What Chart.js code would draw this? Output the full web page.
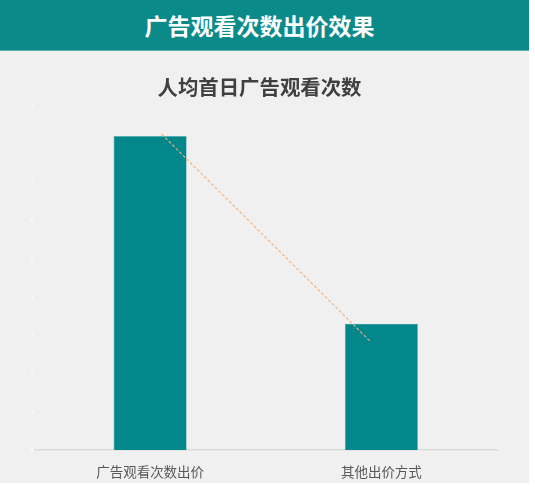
<!DOCTYPE html>
<html>
<head>
<meta charset="utf-8">
<script src="https://cdn.jsdelivr.net/npm/chart.js@4"></script>
<style>
  html, body { margin: 0; padding: 0; background: #ffffff; }
  body { width: 535px; height: 487px; position: relative; overflow: hidden; font-family: "Noto Sans CJK SC", sans-serif; }
  .panel { position: absolute; left: 0; top: 0; width: 529px; height: 483px; background: #f0f0f0; }
  .header {
    position: absolute; left: 0; top: 0; width: 529px; height: 50px;
    background: #0b8a8a; border-bottom: 1px solid #5db0b0;
    color: #ffffff; font-weight: bold; font-size: 23px;
    line-height: 50px; text-align: center; text-indent: -10px;
  }
  .chartBox { position: absolute; left: 0; top: 51px; width: 519px; height: 432px; }
</style>
</head>
<body>
<div class="panel">
  <div class="header">广告观看次数出价效果</div>
  <div class="chartBox"><canvas id="myChart"></canvas></div>
</div>
<script>
// data
const categories = ['广告观看次数出价', '其他出价方式'];
const avgViews = [8.2, 3.3];
// dashed guide line, x in category index units
const trendX = [0.05, 0.95];
const trendY = [8.25, 2.85];
const yMax = 9;
const yStep = 1;

const FONT = '"Noto Sans CJK SC", sans-serif';

const trendPoints = trendX.map((x, i) => ({x: x, y: trendY[i]}));

new Chart(document.getElementById('myChart'), {
  type: 'bar',
  data: {
    labels: categories,
    datasets: [{
      type: 'line',
      label: 'trend',
      xAxisID: 'x2',
      data: trendPoints,
      borderColor: '#f2b07a',
      borderWidth: 1.1,
      borderDash: [3, 2],
      pointRadius: 0,
      fill: false,
      order: 0
    }, {
      type: 'bar',
      label: '人均首日广告观看次数',
      data: avgViews,
      backgroundColor: '#03878a',
      borderColor: '#4fa9ab',
      borderWidth: 0.6,
      grouped: false,
      barPercentage: 0.316,
      categoryPercentage: 1,
      order: 5
    }]
  },
  options: {
    responsive: true,
    maintainAspectRatio: false,
    animation: false,
    layout: {padding: {left: 22, right: 22, top: 0, bottom: 0}},
    plugins: {
      legend: {display: false},
      tooltip: {enabled: false},
      title: {
        display: true,
        text: '人均首日广告观看次数',
        color: '#404040',
        font: {family: FONT, size: 20.4, weight: 'bold'},
        padding: {top: 24, bottom: 6}
      }
    },
    scales: {
      x: {
        type: 'category',
        offset: true,
        grid: {display: false, drawTicks: false},
        border: {display: true, color: '#dadada', width: 1.5},
        ticks: {color: '#595959', font: {family: FONT, size: 13.5}, padding: 14},
        afterFit: scale => { scale.height = 33; }
      },
      x2: {
        type: 'linear',
        position: 'bottom',
        min: -0.5,
        max: 1.5,
        offset: false,
        grid: {display: false, drawTicks: false},
        border: {display: false},
        ticks: {display: false},
        afterFit: scale => { scale.height = 0; }
      },
      y: {
        min: 0,
        max: yMax,
        grid: {display: false, drawTicks: false},
        border: {display: false},
        ticks: {stepSize: yStep, color: '#ffffff', font: {family: FONT, size: 5}, padding: 1},
        afterFit: scale => { scale.width = 12.5; }
      }
    }
  }
});
</script>
</body>
</html>
